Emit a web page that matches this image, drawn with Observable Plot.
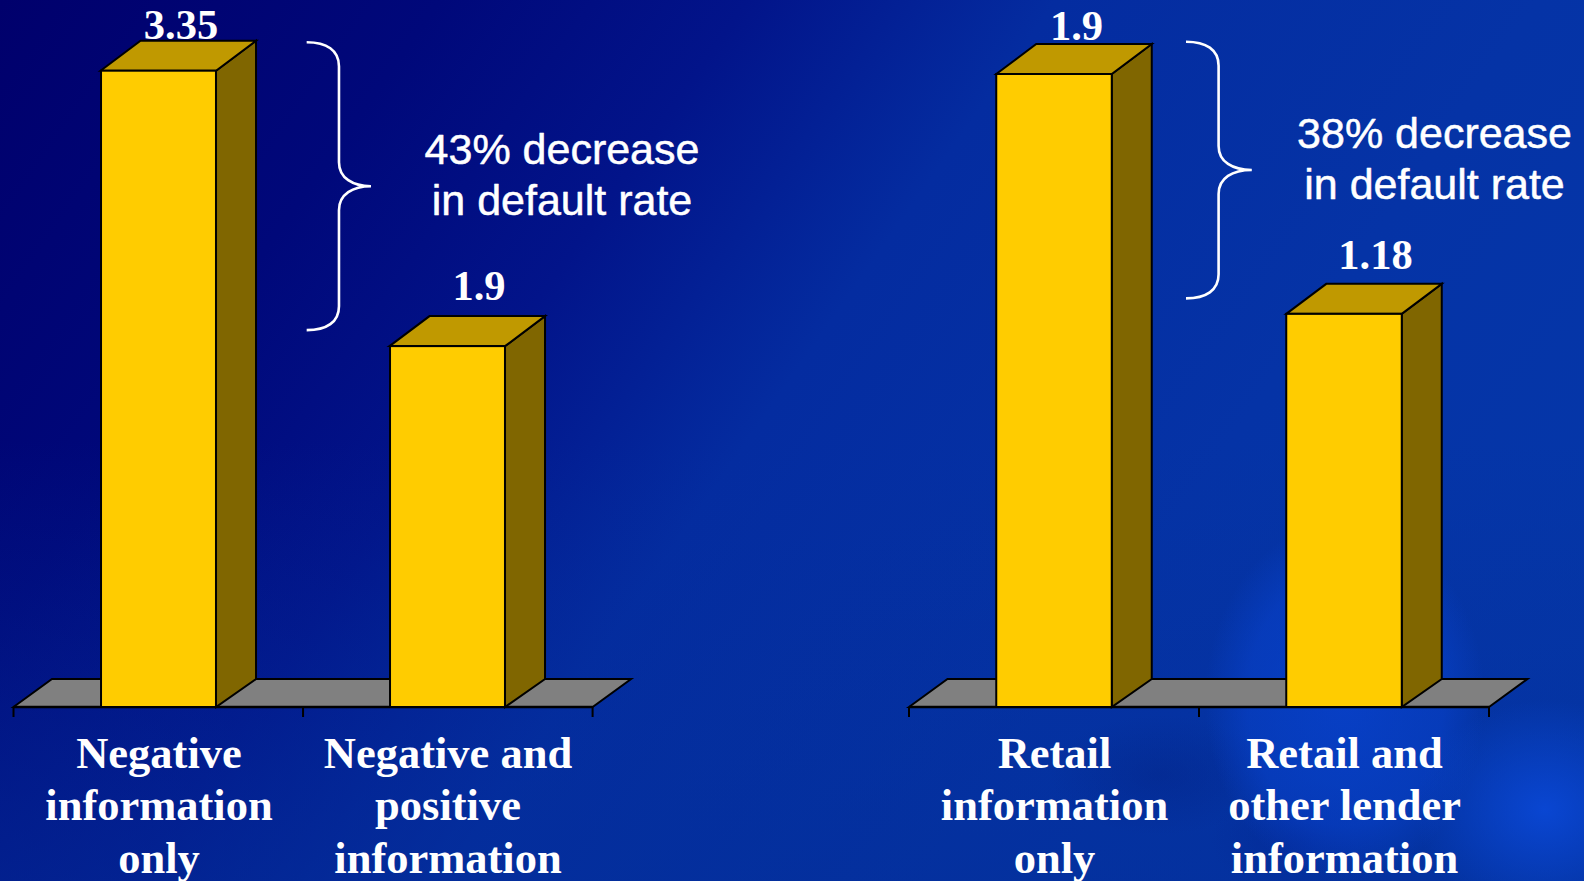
<!DOCTYPE html>
<html><head><meta charset="utf-8">
<script src="https://cdn.jsdelivr.net/npm/d3@7"></script>
<script src="https://cdn.jsdelivr.net/npm/@observablehq/plot@0.6"></script>
<style>
html,body{margin:0;padding:0;width:1584px;height:881px;overflow:hidden}
#bg{position:absolute;left:0;top:0;width:1584px;height:881px;
background:
 radial-gradient(ellipse 130px 110px at 1545px 810px, rgba(10,72,215,.9), rgba(10,72,215,0) 100%),
 radial-gradient(ellipse 140px 180px at 1345px 700px, rgba(8,66,205,.8), rgba(8,66,205,.55) 70%, rgba(8,66,205,0) 100%),
 radial-gradient(ellipse 110px 60px at 1160px 775px, rgba(3,36,135,.45), rgba(3,36,135,0) 100%),
 radial-gradient(ellipse 90px 60px at 1300px 840px, rgba(3,36,145,.4), rgba(3,36,145,0) 100%),
 linear-gradient(to top, rgba(3,46,152,.55), rgba(3,46,152,0) 50%),
 linear-gradient(125deg,#00006c 0%,#00087a 20%,#02148a 34%,#042ca0 48%,#0533a6 70%,#0538aa 100%);}
.panel{position:absolute;top:0}
</style></head><body>
<div id="bg"></div>
<div id="leftChart" class="panel" style="left:0"></div>
<div id="rightChart" class="panel" style="left:792px"></div>
<script>
// --- data ---
const leftCategories = ["Negative\ninformation\nonly", "Negative and\npositive\ninformation"];
const leftValues = [3.35, 1.9];
const leftNote = "43% decrease\nin default rate";
const leftBrace = {top: 3.5, tip: 2.742, bottom: 1.984};

const rightCategories = ["Retail\ninformation\nonly", "Retail and\nother lender\ninformation"];
const rightValues = [1.9, 1.18];
const rightNote = "38% decrease\nin default rate";
const rightBrace = {top: 1.997, tip: 1.612, bottom: 1.2266};

// --- styles ---
const serif = "'Liberation Serif','Times New Roman',serif";
const sans = "'Liberation Sans',Arial,sans-serif";
const FRONT = "#ffcc00", TOP = "#c09900", SIDE = "#806600", FLOOR = "#808080";
const DEPTH_X = 40, DEPTH_Y = 30, FLOOR_DY = 28, FLOOR_DX = 38.5, TICK = 10;

function panel(el, categories, values, note, brace, L) {
  const band = (L.xRange[1] - L.xRange[0]) / categories.length;
  const inset = (band - L.barWidth) / 2;
  const data = categories.map((c, i) => ({c, v: values[i]}));
  const centers = s => categories.map(c => s.x(c) - s.x(categories[0]) + L.xRange[0] + band / 2);

  const path = (g, d, fill, stroke, w) => {
    const p = document.createElementNS("http://www.w3.org/2000/svg", "path");
    p.setAttribute("d", d); p.setAttribute("fill", fill); p.setAttribute("stroke", stroke);
    p.setAttribute("stroke-width", w); p.setAttribute("stroke-linejoin", "miter");
    g.appendChild(p);
  };
  const group = () => document.createElementNS("http://www.w3.org/2000/svg", "g");

  const floorMark = (index, s) => {
    const g = group(), y0 = s.y(0), [a, b] = L.xRange;
    path(g, `M${a},${y0}L${a + FLOOR_DX},${y0 - FLOOR_DY}L${b + FLOOR_DX},${y0 - FLOOR_DY}L${b},${y0}Z`, FLOOR, "#000", 2);
    const ticks = d3.range(categories.length + 1).map(i => a + i * band);
    path(g, ticks.map(t => `M${t},${y0}V${y0 + TICK}`).join(""), "none", "#000", 2);
    path(g, `M${a},${y0}H${b}`, "none", "#000", 2.4);
    return g;
  };
  const depthMark = (index, s) => {
    const g = group(), cs = centers(s), y0 = s.y(0);
    data.forEach((d, i) => {
      const x1 = cs[i] - L.barWidth / 2, x2 = cs[i] + L.barWidth / 2, yt = s.y(d.v);
      path(g, `M${x2},${y0}V${yt}L${x2 + DEPTH_X},${yt - DEPTH_Y}V${y0 - FLOOR_DY}Z`, SIDE, "#000", 2);
      path(g, `M${x1},${yt}L${x1 + DEPTH_X},${yt - DEPTH_Y}H${x2 + DEPTH_X}L${x2},${yt}Z`, TOP, "#000", 2);
    });
    return g;
  };
  const braceMark = (index, s) => {
    const g = group(), c = centers(s)[0];
    const x0 = c + L.brace[0], xs = c + L.brace[1], xt = c + L.brace[2];
    const t = s.y(brace.top), m = s.y(brace.tip), b = s.y(brace.bottom);
    path(g, `M${x0},${t}C${x0 + 20},${t} ${xs},${t + 8} ${xs},${t + 24}` +
      `V${m - 24}C${xs},${m - 8} ${xs + 14},${m} ${xt},${m}` +
      `C${xs + 14},${m} ${xs},${m + 8} ${xs},${m + 24}` +
      `V${b - 24}C${xs},${b - 8} ${x0 + 20},${b} ${x0},${b}`, "none", "#fff", 2.6);
    return g;
  };

  const chart = Plot.plot({
    width: 792, height: 881,
    marginTop: 0, marginBottom: 174, marginLeft: 0, marginRight: 0,
    style: {background: "transparent", color: "#fff", overflow: "visible"},
    x: {type: "band", domain: categories, range: L.xRange, padding: 0, label: null},
    y: {domain: [0, values[0]], range: [707, L.yTop], axis: null},
    marks: [
      floorMark,
      depthMark,
      Plot.barY(data, {x: "c", y: "v", fill: FRONT, stroke: "#000", strokeWidth: 2,
        insetLeft: inset, insetRight: inset}),
      Plot.axisX({anchor: "bottom", tickSize: 0, tickPadding: L.labelPad, label: null,
        fontSize: 44.5, fontFamily: serif, fontWeight: "bold", lineHeight: 1.18, fill: "#fff",
        textStroke: "none"}),
      ...data.map((d, i) => Plot.text([d], {x: "c", y: "v", text: e => String(e.v),
        dx: L.valueDx[i], dy: L.valueDy[i], lineAnchor: "bottom", fontSize: 42.5,
        fontFamily: serif, fontWeight: "bold", fill: "#fff"})),
      braceMark,
      Plot.text([note], {x: () => categories[0], y: () => brace.tip + L.noteShift, text: d => d,
        dx: L.noteDx, fontSize: 43, lineHeight: 1.186, fontFamily: sans, fill: "#fff",
        stroke: "#fff", strokeWidth: 0.5})
    ]
  });
  document.getElementById(el).appendChild(chart);
}

panel("leftChart", leftCategories, leftValues, leftNote, leftBrace, {
  xRange: [13.5, 592.6], barWidth: 115.5, yTop: 70.7, labelPad: 23,
  valueDx: [22, 31], valueDy: [-32, -46.5], brace: [148.4, 180.7, 212.7],
  noteDx: 403, noteShift: 0.07
});
panel("rightChart", rightCategories, rightValues, rightNote, rightBrace, {
  xRange: [117, 697], barWidth: 115.5, yTop: 74, labelPad: 23,
  valueDx: [22, 31], valueDy: [-35, -45], brace: [132, 164.6, 197.8],
  noteDx: 380, noteShift: 0.04
});
</script>
</body></html>
